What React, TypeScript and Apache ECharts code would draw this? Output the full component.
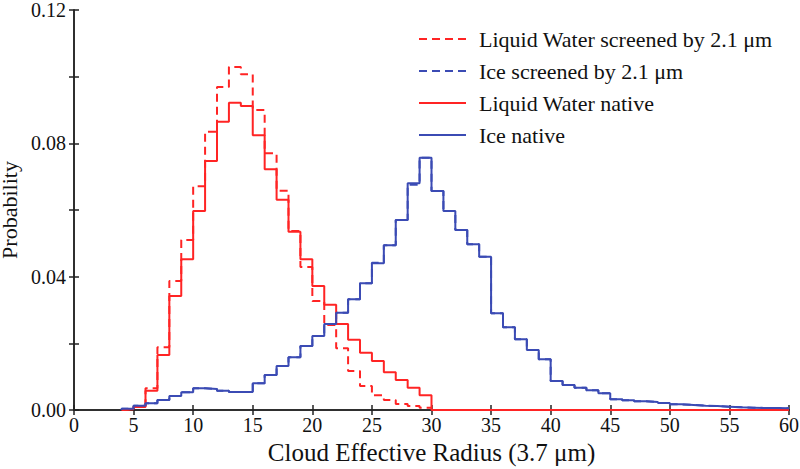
import React, { useEffect, useRef } from "react";
import * as echarts from "echarts";

// Bin left edges start at 4 µm, width 1 µm
const FIRST_EDGE = 4;

const waterScreened = [
  0.0002, 0.0011, 0.0065, 0.0188, 0.0387, 0.051, 0.0671, 0.0835, 0.0969, 0.1029,
  0.1007, 0.09, 0.077, 0.0658, 0.0537, 0.0429, 0.0327, 0.0255, 0.0185, 0.0117,
  0.0072, 0.0044, 0.003, 0.0018, 0.0012, 0.0007,
];

const waterNative = [
  0.0002, 0.0009, 0.0058, 0.0165, 0.0342, 0.0452, 0.0597, 0.0747, 0.0865, 0.0922,
  0.0912, 0.0824, 0.0722, 0.0631, 0.0535, 0.0452, 0.0372, 0.0316, 0.0258, 0.0211,
  0.0172, 0.0147, 0.0113, 0.009, 0.0067, 0.0044,
];

const iceNative = [
  0.0004, 0.0013, 0.002, 0.003, 0.0042, 0.0053, 0.0065, 0.0063, 0.0058, 0.0054,
  0.0054, 0.008, 0.0105, 0.0132, 0.0158, 0.0192, 0.0222, 0.0258, 0.0292, 0.0332,
  0.038, 0.044, 0.0494, 0.057, 0.068, 0.0757, 0.0657, 0.0597, 0.054, 0.0497,
  0.046, 0.029, 0.0248, 0.0212, 0.018, 0.0152, 0.0087, 0.0075, 0.0067, 0.0059,
  0.005, 0.0032, 0.0029, 0.0026, 0.0024, 0.0021, 0.0017, 0.0015, 0.0013, 0.0012,
  0.001, 0.0008, 0.0007, 0.0006, 0.0006, 0.0005,
];

const iceScreened = [
  0.0004, 0.0013, 0.002, 0.003, 0.0042, 0.0053, 0.0065, 0.0063, 0.0058, 0.0054,
  0.0054, 0.008, 0.0105, 0.0132, 0.0158, 0.0192, 0.0222, 0.0258, 0.0292, 0.0332,
  0.038, 0.0442, 0.0494, 0.057, 0.0676, 0.0757, 0.0657, 0.0597, 0.054, 0.0497,
  0.046, 0.029, 0.0248, 0.0212, 0.018, 0.0152, 0.0087, 0.0075, 0.0067, 0.0059,
  0.005, 0.0032, 0.0029, 0.0026, 0.0024, 0.0021, 0.0017, 0.0015, 0.0013, 0.0012,
  0.001, 0.0008, 0.0007, 0.0006, 0.0006, 0.0005,
];

const seriesNames = [
  "Liquid Water screened by 2.1 μm",
  "Ice screened by 2.1 μm",
  "Liquid Water native",
  "Ice native",
];

const X_MAX = 60;
const RED = "#ff2424";
const BLUE = "#3b4bb4";
const FONT = "'Liberation Serif', 'Times New Roman', serif";

function toSteps(values: number[], padToEnd: boolean): number[][] {
  const pts: number[][] = [[FIRST_EDGE, 0]];
  values.forEach((v, i) => pts.push([FIRST_EDGE + i, v]));
  const lastEdge = FIRST_EDGE + values.length;
  if (padToEnd && lastEdge < X_MAX) {
    pts.push([lastEdge, 0]);
    pts.push([X_MAX, 0]);
  } else {
    pts.push([lastEdge, values[values.length - 1]]);
  }
  return pts;
}

export default function App() {
  const ref = useRef<HTMLDivElement>(null);
  useEffect(() => {
    if (!ref.current) return;
    const chart = echarts.init(ref.current, null, { renderer: "svg" });
    const axisLine = { show: true, lineStyle: { color: "#222", width: 1.5 } };
    const axisTick = { show: true, inside: true, length: 5, lineStyle: { color: "#222", width: 1.5 } };
    const mk = (name: string, data: number[][], color: string, dashed: boolean, z: number) => ({
      name,
      type: "line",
      step: "end",
      data,
      symbol: "none",
      showSymbol: false,
      z,
      lineStyle: { color, width: 2, type: dashed ? [8, 5] : "solid" },
      itemStyle: { color },
    });
    chart.setOption({
      animation: false,
      backgroundColor: "#fff",
      grid: { left: 74, right: 11, top: 10, bottom: 59, outerBoundsMode: "none", containLabel: false },
      legend: {
        orient: "vertical",
        left: 418,
        top: 28,
        padding: 0,
        itemWidth: 47,
        itemHeight: 14,
        itemGap: 10,
        data: seriesNames,
        itemStyle: { opacity: 0 },
        textStyle: { fontFamily: FONT, fontSize: 22, color: "#111", padding: [0, 0, 0, 8] },
      },
      xAxis: [
        {
          type: "value",
          min: 0,
          max: 60,
          interval: 5,
          axisLine,
          axisTick,
          splitLine: { show: false },
          axisLabel: { fontFamily: FONT, fontSize: 20, color: "#111", margin: 5 },
          name: "Cloud Effective Radius (3.7 μm)",
          nameLocation: "middle",
          nameGap: 25,
          nameTextStyle: { fontFamily: FONT, fontSize: 25, color: "#111" },
        },
        {
          type: "value",
          position: "top",
          min: 0,
          max: 60,
          interval: 5,
          axisLine,
          axisTick,
          splitLine: { show: false },
          axisLabel: { show: false },
        },
      ],
      yAxis: [
        {
          type: "value",
          min: 0,
          max: 0.12,
          interval: 0.02,
          axisLine,
          axisTick,
          splitLine: { show: false },
          axisLabel: {
            fontFamily: FONT,
            fontSize: 20,
            color: "#111",
            margin: 8,
            formatter: (v: number) => (Math.round(v / 0.02) % 2 === 0 ? v.toFixed(2) : ""),
          },
          name: "Probability",
          nameLocation: "middle",
          nameGap: 46,
          nameTextStyle: { fontFamily: FONT, fontSize: 22, color: "#111" },
        },
        {
          type: "value",
          position: "right",
          min: 0,
          max: 0.12,
          interval: 0.02,
          axisLine,
          axisTick,
          splitLine: { show: false },
          axisLabel: { show: false },
        },
      ],
      series: [
        mk(seriesNames[0], toSteps(waterScreened, false), RED, true, 2),
        mk(seriesNames[1], toSteps(iceScreened, false), BLUE, true, 2),
        mk(seriesNames[2], toSteps(waterNative, true), RED, false, 3),
        mk(seriesNames[3], toSteps(iceNative, false), BLUE, false, 4),
      ],
    });
    return () => chart.dispose();
  }, []);
  return (
    <div
      ref={ref}
      style={{ position: "absolute", left: 0, top: 0, width: 800, height: 469 }}
    />
  );
}
